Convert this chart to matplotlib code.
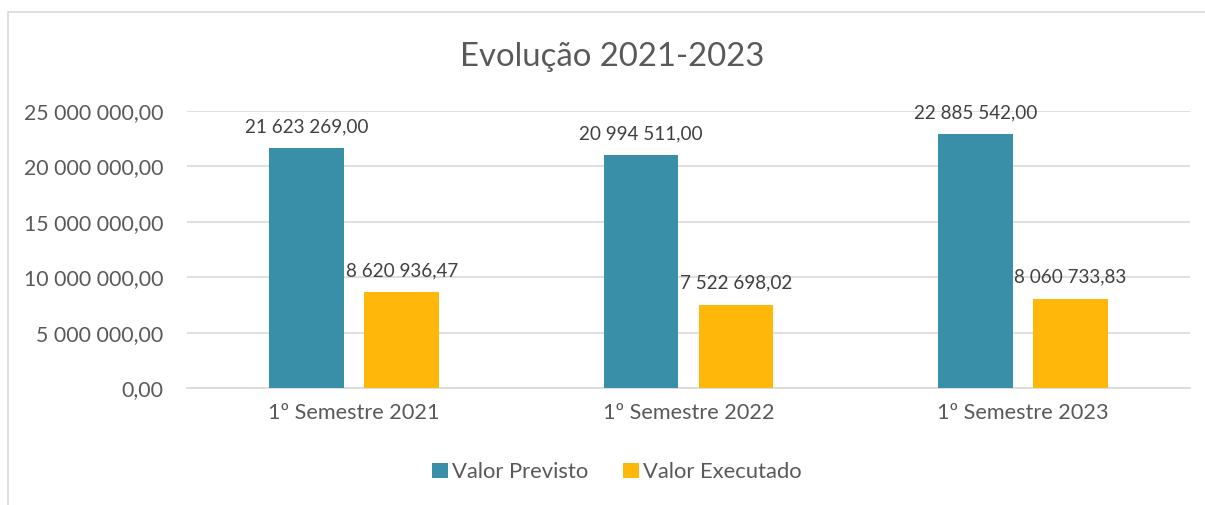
import numpy as np
import matplotlib.pyplot as plt
from matplotlib.patches import Rectangle

# dados
categorias = ["1º Semestre 2021", "1º Semestre 2022", "1º Semestre 2023"]
valor_previsto = [21623269.00, 20994511.00, 22885542.00]
valor_executado = [8620936.47, 7522698.02, 8060733.83]
yticks = [0, 5e6, 10e6, 15e6, 20e6, 25e6]

AZUL = "#3A8FA8"
LARANJA = "#FFB80A"
CINZA = "#595959"

plt.rcParams['font.family'] = ['Lato', 'DejaVu Sans']


def fmt(v):
    s = f"{v:,.2f}"
    return s.replace(",", " ").replace(".", ",")


fig = plt.figure(figsize=(12.05, 5.05), dpi=100)
fig.patches.append(Rectangle((8 / 1205, -0.01), 1.0, 1 - 12 / 505 + 0.01,
                             transform=fig.transFigure, fill=False,
                             edgecolor="#D9D9D9", linewidth=1.2))

ax = fig.add_axes([187 / 1205, 1 - 388 / 505, (1190 - 187) / 1205, (388 - 111) / 505])

x = np.arange(len(categorias))
w = 0.224
off = 0.142
b1 = ax.bar(x - off, valor_previsto, w, color=AZUL, label="Valor Previsto", zorder=3)
b2 = ax.bar(x + off, valor_executado, w, color=LARANJA, label="Valor Executado", zorder=3)

for bars, vals in ((b1, valor_previsto), (b2, valor_executado)):
    for r, v in zip(bars, vals):
        ax.text(r.get_x() + r.get_width() / 2, v + 1.2e6, fmt(v),
                ha="center", va="bottom", fontsize=13.6, color="#404040")

ax.set_xlim(-0.5, 2.5)
ax.set_ylim(0, 25e6)
ax.set_yticks(yticks)
ax.set_yticklabels([fmt(v) for v in yticks], fontsize=15.3, color=CINZA)
ax.set_xticks(x)
ax.set_xticklabels(categorias, fontsize=15.6, color=CINZA)
ax.tick_params(length=0)
ax.tick_params(axis="y", pad=17)
ax.tick_params(axis="x", pad=11)
ax.grid(axis="y", color="#D9D9D9", linewidth=1.2, zorder=0)
for s in ["top", "right", "left"]:
    ax.spines[s].set_visible(False)
ax.spines["bottom"].set_color("#D9D9D9")
ax.spines["bottom"].set_linewidth(1.2)

fig.text(612 / 1205, 1 - 57 / 505, "Evolução 2021-2023", ha="center", va="center",
         fontsize=23.7, color=CINZA)

fig.legend(handles=[b1, b2], loc="center", bbox_to_anchor=(617 / 1205, 1 - 472 / 505),
           ncol=2, frameon=False, fontsize=15.8, labelcolor=CINZA,
           handlelength=0.7, handleheight=0.7, handletextpad=0.2, columnspacing=1.6)

fig.savefig("out.png", dpi=100)
